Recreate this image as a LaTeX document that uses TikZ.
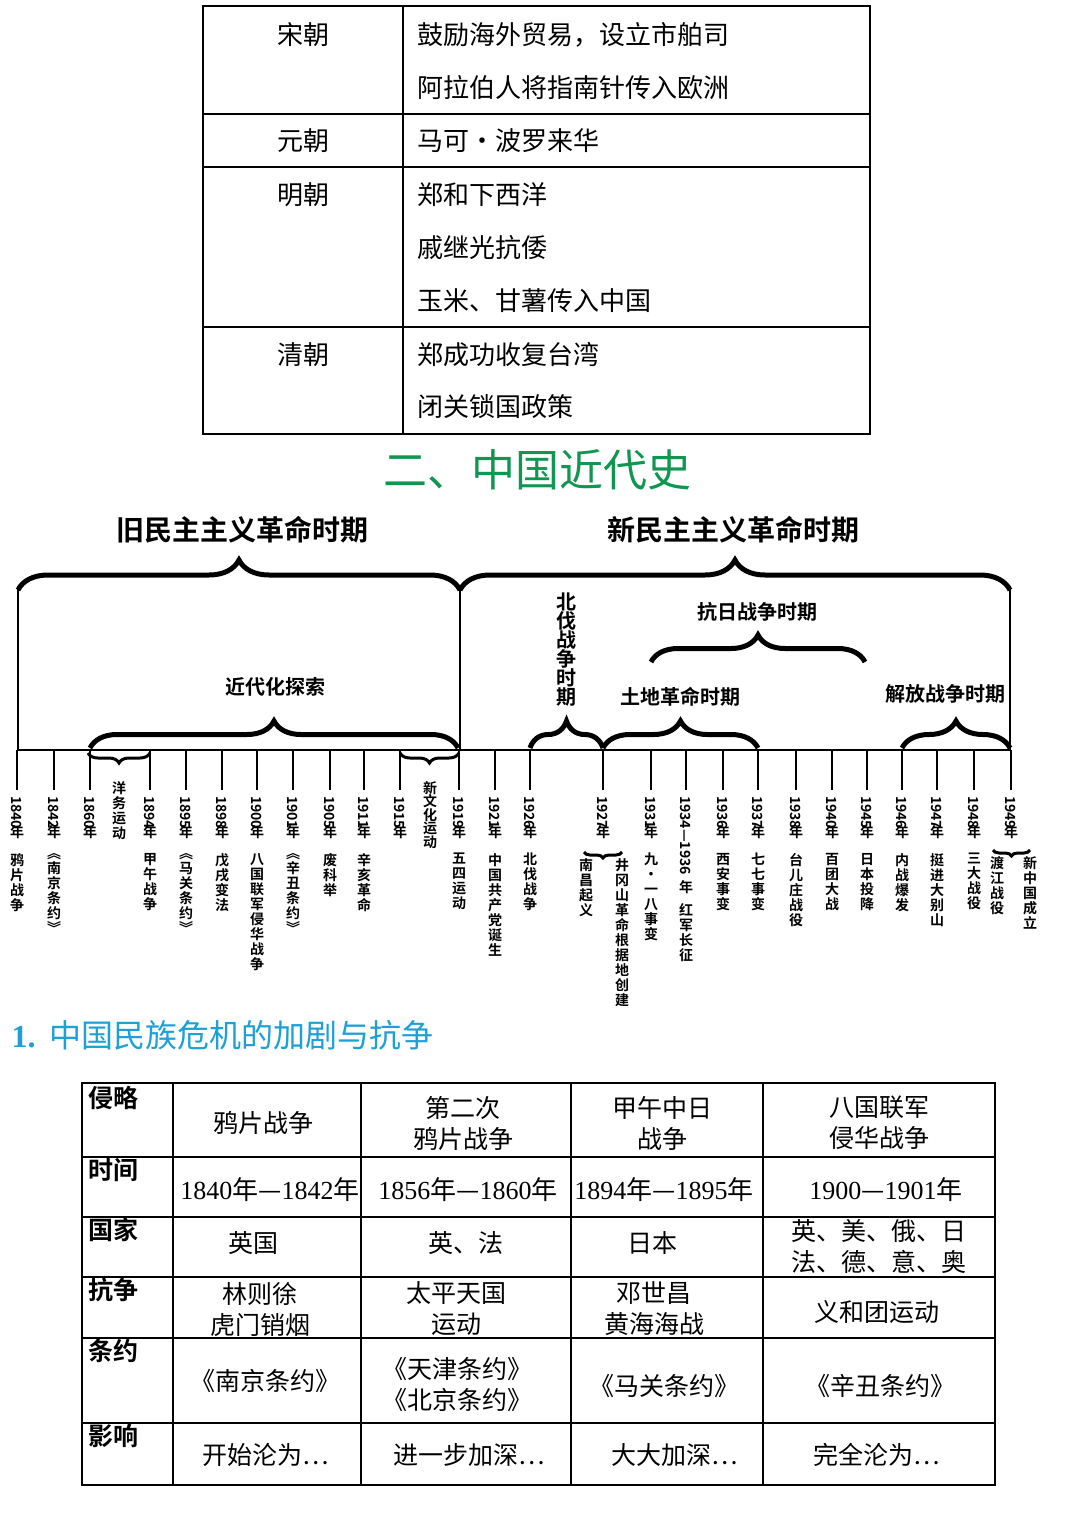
\documentclass[tikz,border=0pt]{standalone}
\usepackage{fontspec}
\setmainfont{Noto Sans CJK SC}
\newfontfamily\bfcjk{Noto Sans CJK SC Bold}
\newfontfamily\ser{Liberation Serif}
\usetikzlibrary{decorations.pathreplacing}
\def\vt#1{\ifx\relax#1\relax\else\vtaux#1\relax\fi}
\def\vtaux#1#2{#1\ifx#2\relax\else\\\expandafter\vtaux\expandafter#2\fi}
\tikzset{
 cell/.style={font=\fontsize{26}{30}\selectfont, inner sep=0},
 brc/.style={decorate, decoration={brace, amplitude=#1}, line width=5pt},
 brcd/.style={decorate, decoration={brace, amplitude=#1, mirror}, line width=3pt},
 yr/.style={rotate=-90, font=\bfcjk\fontsize{14}{14}\selectfont, inner sep=0, anchor=west},
 nian/.style={font=\bfcjk\fontsize{14}{14}\selectfont, inner sep=0},
 ev/.style={font=\bfcjk\fontsize{14}{15}\selectfont, inner sep=0, anchor=north, align=center},
 per/.style={font=\bfcjk\fontsize{20}{19}\selectfont, inner sep=0, align=center},
 tk/.style={line width=2.5pt},
 lab/.style={font=\bfcjk\fontsize{25}{28}\selectfont, inner sep=0, anchor=north west},
}
\begin{document}
\begin{tikzpicture}[x=1pt,y=-1pt]
\useasboundingbox (0,0) rectangle (1080,1528);
\fill[white] (0,0) rectangle (1080,1528);
% ---- top table
\draw[line width=1.5pt] (203,6) rectangle (870,434);
\draw[line width=1.5pt] (403,6) -- (403,434);
\foreach \yy in {114,167,327} \draw[line width=1.5pt] (203,\yy) -- (870,\yy);
\foreach \t/\yy [count=\i] in {宋朝/35,元朝/141,明朝/195,清朝/355}
  \node[cell] (L\i) at (303,\yy) {\t};
\foreach \t/\yy [count=\i] in {鼓励海外贸易，设立市舶司/35,阿拉伯人将指南针传入欧洲/88,马可·波罗来华/141,郑和下西洋/195,戚继光抗倭/248,玉米、甘薯传入中国/301,郑成功收复台湾/355,闭关锁国政策/407}
  \node[cell,anchor=west] (R\i) at (417,\yy) {\t};
% ---- titles
\node[font=\fontsize{44}{46}\selectfont, text={rgb,255:red,16;green,150;blue,80}] (title) at (537,470) {二、中国近代史};
\node[font=\bfcjk\fontsize{28}{30}\selectfont] (old) at (242,530) {旧民主主义革命时期};
\node[font=\bfcjk\fontsize{28}{30}\selectfont] (new) at (733,530) {新民主主义革命时期};
% big braces
\draw[brc=30] (18,590) -- (460,590);
\draw[brc=30] (460,590) -- (1010,590);
\foreach \xx in {18,460,1010} \draw[line width=2pt] (\xx,586) -- (\xx,750);
% period braces
\draw[brc=27] (90,748) -- (458,748);
\draw[brc=27] (530,748) -- (603,748);
\draw[brc=27] (603,748) -- (758,748);
\draw[brc=27] (902,748) -- (1010,748);
\draw[brc=27] (651,662) -- (865,662);
\node[per] (p1) at (275,687) {近代化探索};
\node[per] (p2) at (566,650) {\vt{北伐战争时期}};
\node[per] (p3) at (680,697) {土地革命时期};
\node[per] (p4) at (757,612) {抗日战争时期};
\node[per] (p5) at (945,694) {解放战争时期};
% axis
\draw[line width=2.2pt] (18,750) -- (1010,750);
% down braces
\draw[brcd=10] (88,753) -- (150,753);
\draw[brcd=10] (400,753) -- (459,753);
\node[ev] (yw) at (119,781) {\vt{洋务运动}};
\node[ev,font=\bfcjk\fontsize{14}{13.5}\selectfont] (xwh) at (430,781) {\vt{新文化运动}};
% ticks
\foreach \xx/\yy/\ee in {17/1840/鸦片战争,54/1842/︽南京条约︾,150/1894/甲午战争,186/1895/︽马关条约︾,222/1898/戊戌变法,257/1900/八国联军侵华战争,293/1901/︽辛丑条约︾,330/1905/废科举,364/1911/辛亥革命,459/1919/五四运动,495/1921/中国共产党诞生,530/1926/北伐战争,651/1931/九·一八事变,723/1936/西安事变,758/1937/七七事变,796/1938/台儿庄战役,832/1940/百团大战,867/1945/日本投降,902/1946/内战爆发,937/1947/挺进大别山,974/1948/三大战役}{
  \draw[tk] (\xx,750) -- (\xx,790);
  \node[yr] (y\yy) at (\xx,796) {\yy};
  \node[nian] (n\yy) at (\xx,832) {年};
  \node[ev] (e\yy) at (\xx,853) {\expandafter\vt\expandafter{\ee}};
}
\foreach \xx/\yy in {90/1860,400/1915}{
  \draw[tk] (\xx,750) -- (\xx,790);
  \node[yr] (y\yy) at (\xx,796) {\yy};
  \node[nian] (n\yy) at (\xx,832) {年};
}
% 1927
\draw[tk] (603,750) -- (603,790);
\node[yr] (y1927) at (603,796) {1927};
\node[nian] (n1927) at (603,832) {年};
\draw[brcd=6] (584,852) -- (622,852);
\node[ev] (e1927a) at (586,858) {\vt{南昌起义}};
\node[ev] (e1927b) at (622,858) {\vt{井冈山革命根据地创建}};
% 1934-1936
\draw[tk] (686,750) -- (686,790);
\node[yr] (y1934) at (686,796) {1934—1936};
\node[nian] (n1934) at (686,887) {年};
\node[ev] (e1934) at (686,903) {\vt{红军长征}};
% 1949
\draw[tk] (1011,750) -- (1011,790);
\node[yr] (y1949) at (1011,796) {1949};
\node[nian] (n1949) at (1011,832) {年};
\draw[brcd=6] (993,850) -- (1030,850);
\node[ev] (e1949a) at (997,856) {\vt{渡江战役}};
\node[ev] (e1949b) at (1030,856) {\vt{新中国成立}};
% ---- section heading
\node[font=\fontsize{32}{34}\selectfont, text={rgb,255:red,28;green,160;blue,214}, anchor=west] (sec) at (8,1035) {{\ser\bfseries 1.}\hspace{14pt}中国民族危机的加剧与抗争};
% ---- bottom table
\draw[line width=1.8pt] (82,1083) rectangle (995,1485);
\foreach \xx in {173,361,571,763} \draw[line width=1.8pt] (\xx,1083) -- (\xx,1485);
\foreach \yy in {1157,1217,1277,1338,1423} \draw[line width=1.8pt] (82,\yy) -- (995,\yy);
\foreach \t/\yy [count=\i] in {侵略/1086,时间/1158,国家/1218,抗争/1278,条约/1339,影响/1424}
  \node[lab] (h\i) at (88,\yy) {\t};
\tikzset{bc/.style={cell,align=center,font=\fontsize{25}{31}\selectfont}}
\node[bc] (a1) at (263,1123) {鸦片战争};
\node[bc] (a2) at (463,1123) {第二次\\鸦片战争};
\node[bc] (a3) at (662,1123) {甲午中日\\战争};
\node[bc] (a4) at (879,1123) {八国联军\\侵华战争};
\node[bc,font=\fontsize{26}{31}\selectfont] (b1) at (270,1190) {{\ser 1840}年—{\ser 1842}年};
\node[bc,font=\fontsize{26}{31}\selectfont] (b2) at (468,1190) {{\ser 1856}年—{\ser 1860}年};
\node[bc,font=\fontsize{26}{31}\selectfont] (b3) at (664,1190) {{\ser 1894}年—{\ser 1895}年};
\node[bc,font=\fontsize{26}{31}\selectfont] (b4) at (886,1190) {{\ser 1900}—{\ser 1901}年};
\node[bc] (c1) at (253,1243) {英国};
\node[bc] (c2) at (466,1243) {英、法};
\node[bc] (c3) at (652,1243) {日本};
\node[bc] (c4) at (879,1246) {英、美、俄、日\\法、德、意、奥};
\node[bc] (d1) at (260,1309) {林则徐\\虎门销烟};
\node[bc] (d2) at (456,1309) {太平天国\\运动};
\node[bc] (d3) at (654,1309) {邓世昌\\黄海海战};
\node[bc] (d4) at (877,1312) {义和团运动};
\node[bc] (f1) at (265,1381) {《南京条约》};
\node[bc] (f2) at (457,1384) {《天津条约》\\《北京条约》};
\node[bc] (f3) at (664,1386) {《马关条约》};
\node[bc] (f4) at (880,1386) {《辛丑条约》};
\node[bc] (g1) at (266,1455) {开始沦为…};
\node[bc] (g2) at (469,1455) {进一步加深…};
\node[bc] (g3) at (675,1455) {大大加深…};
\node[bc] (g4) at (877,1455) {完全沦为…};
\end{tikzpicture}
\end{document}
